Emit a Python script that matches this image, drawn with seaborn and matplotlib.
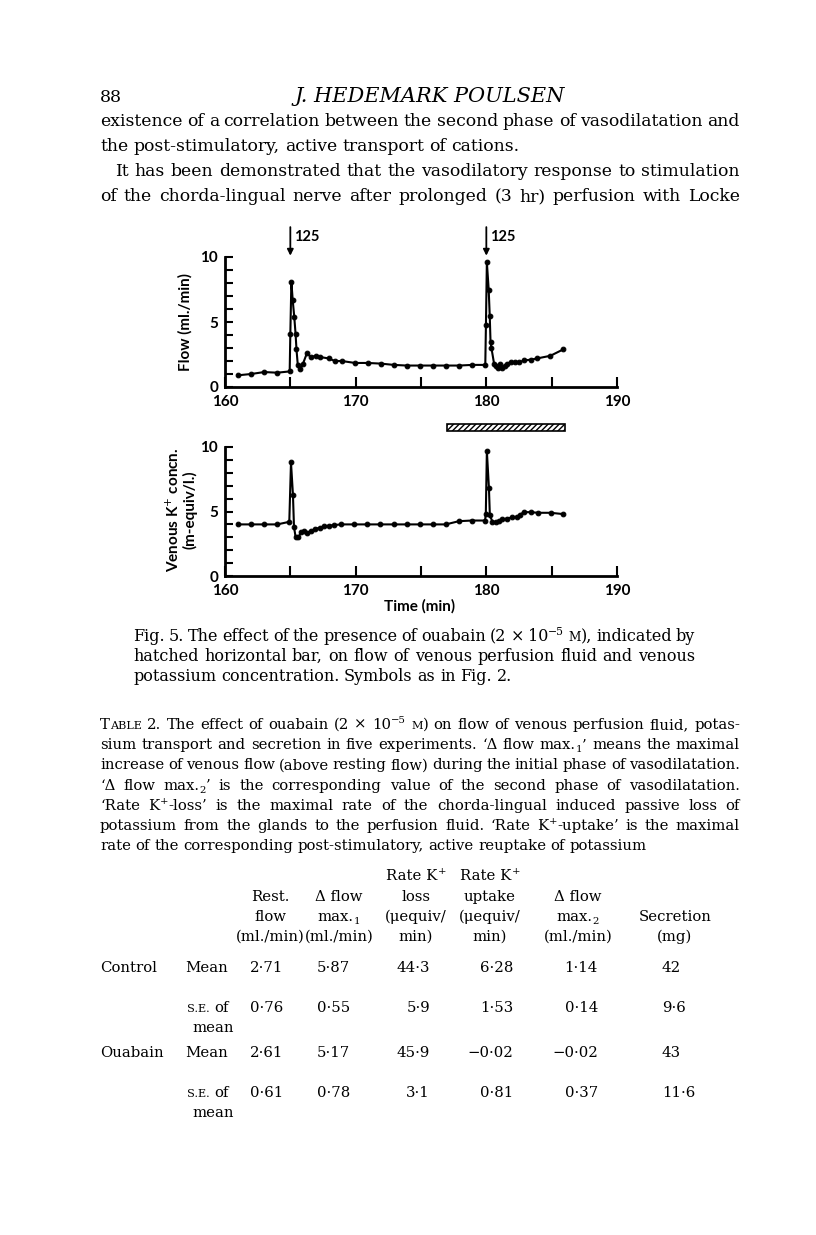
import re
import numpy as np
import pandas as pd
import matplotlib
matplotlib.use("Agg")
import matplotlib.pyplot as plt
import seaborn as sns
from matplotlib.patches import Rectangle

W, H = 816, 1235

# ---- chart data ----
flow_time = [161, 162, 163, 164, 164.95, 165.0, 165.08, 165.18, 165.3, 165.4,
             165.47, 165.57, 165.77, 165.97, 166.27, 166.58, 166.94, 167.3, 167.93, 168.4,
             168.93, 169.95, 170.93, 171.92, 172.92, 173.91, 174.91, 175.9, 176.9, 177.92,
             178.92, 179.92, 179.97, 180.04, 180.18, 180.26, 180.32, 180.39, 180.6, 180.75,
             180.9, 181.05, 181.2, 181.4, 181.6, 181.88, 182.22, 182.53, 182.9, 183.4,
             183.9, 184.9, 185.9]
flow_value = [0.9, 1.0, 1.15, 1.1, 1.2, 4.1, 8.1, 6.7, 5.4, 4.1,
              2.9, 1.7, 1.35, 1.8, 2.6, 2.3, 2.4, 2.3, 2.2, 2.0,
              2.0, 1.85, 1.85, 1.8, 1.7, 1.65, 1.65, 1.65, 1.65, 1.65,
              1.7, 1.7, 4.8, 9.6, 7.5, 5.5, 3.5, 3.0, 1.75, 1.6,
              1.45, 1.75, 1.5, 1.6, 1.8, 1.9, 1.9, 1.9, 2.05, 2.1,
              2.2, 2.4, 2.9]

k_time = [161, 162, 163, 164, 164.92, 165.05, 165.2, 165.28, 165.4, 165.6,
          165.85, 166.05, 166.25, 166.55, 166.9, 167.3, 167.6, 167.95, 168.35, 168.9,
          169.9, 170.9, 171.9, 172.9, 173.9, 174.9, 175.9, 176.9, 177.9, 178.9,
          179.9, 179.96, 180.04, 180.2, 180.27, 180.47, 180.72, 180.95, 181.23, 181.6,
          182.0, 182.37, 182.55, 182.88, 183.39, 183.95, 184.92, 185.88]
k_value = [4.0, 4.0, 4.0, 4.0, 4.2, 8.8, 6.3, 3.8, 3.05, 3.0,
           3.4, 3.5, 3.35, 3.45, 3.65, 3.75, 3.85, 3.9, 3.95, 4.0,
           4.0, 4.0, 4.0, 4.0, 4.0, 4.0, 4.0, 4.0, 4.25, 4.3,
           4.3, 4.8, 9.7, 6.8, 4.7, 4.2, 4.15, 4.25, 4.4, 4.45,
           4.55, 4.6, 4.75, 4.95, 4.95, 4.9, 4.9, 4.8]

stim_times = [165, 180]
stim_label = "125"
ouabain_start, ouabain_end = 177, 186

# ---- table data ----
col_heads = [["", "Rest.", "flow", "(ml./min)"],
             ["", "Δ flow", "max._{1}", "(ml./min)"],
             ["Rate K^{+}", "loss", "(μequiv/", "min)"],
             ["Rate K^{+}", "uptake", "(μequiv/", "min)"],
             ["", "Δ flow", "max._{2}", "(ml./min)"],
             ["", "", "Secretion", "(mg)"]]
control_mean = ["2·71", "5·87", "44·3", "6·28", "1·14", "42"]
control_se = ["0·76", "0·55", "5·9", "1·53", "0·14", "9·6"]
ouabain_mean = ["2·61", "5·17", "45·9", "−0·02", "−0·02", "43"]
ouabain_se = ["0·61", "0·78", "3·1", "0·81", "0·37", "11·6"]

body_lines = ["existence of a correlation between the second phase of vasodilatation and",
              "the post-stimulatory, active transport of cations.",
              "It has been demonstrated that the vasodilatory response to stimulation",
              "of the chorda-lingual nerve after prolonged (3 hr) perfusion with Locke"]
fig_caption = ["Fig. 5. The effect of the presence of ouabain (2 × 10^{−5} ~{M}), indicated by",
               "hatched horizontal bar, on flow of venous perfusion fluid and venous",
               "potassium concentration. Symbols as in Fig. 2."]
table_caption = ["T~{ABLE} 2. The effect of ouabain (2 × 10^{−5} ~{M}) on flow of venous perfusion fluid, potas-",
                 "sium transport and secretion in five experiments. ‘Δ flow max._{1}’ means the maximal",
                 "increase of venous flow (above resting flow) during the initial phase of vasodilatation.",
                 "‘Δ flow max._{2}’ is the corresponding value of the second phase of vasodilatation.",
                 "‘Rate K^{+}-loss’ is the maximal rate of the chorda-lingual induced passive loss of",
                 "potassium from the glands to the perfusion fluid. ‘Rate K^{+}-uptake’ is the maximal",
                 "rate of the corresponding post-stimulatory, active reuptake of potassium"]

sns.set_style("ticks")
plt.rcParams['font.family'] = ['DejaVu Serif']
plt.rcParams['hatch.linewidth'] = 1.0
for key in ['text.color', 'axes.edgecolor', 'xtick.color', 'ytick.color', 'axes.labelcolor']:
    plt.rcParams[key] = 'black'
SERIF = "DejaVu Serif"
SANS = "Lato"

fig = plt.figure(figsize=(W / 100, H / 100), dpi=100)
fig.patch.set_facecolor("white")
renderer = fig.canvas.get_renderer()


def parse(word):
    runs = []
    for part in re.split(r'(\^\{[^}]*\}|_\{[^}]*\}|~\{[^}]*\})', word):
        if not part:
            continue
        if part.startswith('^{'):
            runs.append((part[2:-1], 0.68, -0.38))
        elif part.startswith('_{'):
            runs.append((part[2:-1], 0.68, 0.22))
        elif part.startswith('~{'):
            runs.append((part[2:-1], 0.76, 0.0))
        else:
            runs.append((part, 1.0, 0.0))
    return runs


def word_width(word, size, **kw):
    w = 0
    for txt, sc, dy in parse(word):
        t = fig.text(0, 0, txt, fontsize=size * sc, family=SERIF, **kw)
        w += t.get_window_extent(renderer).width
        t.remove()
    return w


def put_word(x, y, word, size, **kw):
    px = size * 100 / 72
    for txt, sc, dy in parse(word):
        t = fig.text(x / W, 1 - (y + dy * px) / H, txt, fontsize=size * sc,
                     family=SERIF, va='baseline', ha='left', **kw)
        x += t.get_window_extent(renderer).width
    return x


def put_line(x0, x1, y, s, size, justify=True, **kw):
    words = s.split()
    widths = [word_width(w, size, **kw) for w in words]
    if justify and len(words) > 1:
        gap = (x1 - x0 - sum(widths)) / (len(words) - 1)
    else:
        gap = size * 100 / 72 * 0.3
    x = x0
    for w, wd in zip(words, widths):
        put_word(x, y, w, size, **kw)
        x += wd + gap


def fit_size(lines, target, base=10, cap=12.5):
    widest = max(sum(word_width(w, base) for w in l.split()) +
                 (len(l.split()) - 1) * base * 100 / 72 * 0.25 for l in lines)
    return min(cap, base * target / widest)


def put_center(cx, y, word, size):
    put_word(cx - word_width(word, size) / 2, y, word, size)


# ---- page header and body text ----
fig.text(100 / W, 1 - 102 / H, "88", fontsize=12.5, family=SERIF, va='baseline')
fig.text(430 / W, 1 - 102 / H, "J. HEDEMARK POULSEN", fontsize=15, family=SERIF,
         style='italic', va='baseline', ha='center')

bsize = fit_size([body_lines[0], body_lines[3]], 640)
put_line(100, 740, 126, body_lines[0], bsize)
put_line(100, 740, 151, body_lines[1], bsize, justify=False)
put_line(115, 740, 176, body_lines[2], bsize)
put_line(100, 740, 201, body_lines[3], bsize)

# ---- plots ----
def style_axis(ax):
    ax.set_xlim(160, 190)
    ax.set_ylim(0, 10)
    sns.despine(ax=ax)
    for side in ['left', 'bottom']:
        ax.spines[side].set_linewidth(2)
    ax.set_xticks([160, 170, 180, 190])
    ax.set_xticks([165, 175, 185], minor=True)
    ax.set_yticks([0, 5, 10])
    ax.set_yticks(range(11), minor=True)
    ax.tick_params(which='both', direction='in', width=1.5, length=7)
    ax.tick_params(axis='x', which='both', pad=6)
    ax.tick_params(axis='y', which='both', length=6, pad=5)
    ax.set_xlabel("")
    ax.set_ylabel("")
    for lab in ax.get_xticklabels() + ax.get_yticklabels():
        lab.set_fontfamily(SANS)
        lab.set_fontweight('bold')
        lab.set_fontsize(11)


ax_flow = fig.add_axes([225 / W, 1 - 387 / H, 392 / W, 130 / H])
ax_k = fig.add_axes([225 / W, 1 - 576 / H, 392 / W, 129 / H])

flow_df = pd.DataFrame({"time": flow_time, "flow": flow_value})
k_df = pd.DataFrame({"time": k_time, "k": k_value})

sns.lineplot(data=flow_df, x="time", y="flow", ax=ax_flow, color="black", linewidth=1.5,
             marker="o", markersize=3.4, markeredgecolor="black", estimator=None,
             sort=False, clip_on=False)
sns.lineplot(data=k_df, x="time", y="k", ax=ax_k, color="black", linewidth=1.5,
             marker="o", markersize=3.4, markeredgecolor="black", estimator=None,
             sort=False, clip_on=False)
style_axis(ax_flow)
style_axis(ax_k)

for t in stim_times:
    ax_flow.annotate("", xy=(t, 10.1), xytext=(t, 12.3), annotation_clip=False,
                     arrowprops=dict(arrowstyle="-|>", color="black", lw=1.3,
                                     mutation_scale=9, shrinkA=0, shrinkB=0))
    ax_flow.text(t + 0.25, 11.55, stim_label, fontsize=10.5, family=SANS,
                 fontweight='bold', va='center', ha='left', clip_on=False)

ax_k.add_patch(Rectangle((ouabain_start, 11.25), ouabain_end - ouabain_start, 0.5,
                         facecolor="white", edgecolor="black", hatch="//////",
                         linewidth=1.2, clip_on=False))

fig.text(185 / W, 1 - 322 / H, "Flow (ml./min)", rotation=90, fontsize=11,
         family=SANS, fontweight='bold', ha='center', va='center')
fig.text(181 / W, 1 - 510 / H, "Venous K$^{+}$ concn.\n(m-equiv/l.)", rotation=90,
         fontsize=11, family=SANS, fontweight='bold', ha='center', va='center',
         multialignment='center', linespacing=1.05)
fig.text(420 / W, 1 - 606 / H, "Time (min)", fontsize=11, family=SANS,
         fontweight='bold', ha='center', va='center')

# ---- figure caption ----
csize = fit_size(fig_caption[:2], 562)
put_line(133, 695, 641, fig_caption[0], csize)
put_line(133, 695, 661, fig_caption[1], csize)
put_line(133, 695, 681, fig_caption[2], csize, justify=False)

# ---- table caption ----
tsize = fit_size(table_caption[:6], 640)
for i, l in enumerate(table_caption):
    put_line(100, 740, 729 + i * 20.2, l, tsize, justify=(i < 6))

# ---- table ----
col_centers = [270, 339, 416, 490, 578, 675]
head_rows = [880, 901, 921, 941]
for cx, heads in zip(col_centers, col_heads):
    for y, h in zip(head_rows, heads):
        if h:
            put_center(cx, y, h, tsize)

val_right = [283, 350, 430, 513, 598, None]
val_left6 = 662


def put_values(y, vals):
    for i, v in enumerate(vals):
        if val_right[i] is None:
            put_word(val_left6, y, v, tsize)
        else:
            put_word(val_right[i] - word_width(v, tsize), y, v, tsize)


put_word(100, 972, "Control", tsize)
put_word(185, 972, "Mean", tsize)
put_values(972, control_mean)
put_line(187, 240, 1012, "~{S.E.} of", tsize, justify=False)
put_word(192, 1032, "mean", tsize)
put_values(1012, control_se)

put_word(100, 1057, "Ouabain", tsize)
put_word(185, 1057, "Mean", tsize)
put_values(1057, ouabain_mean)
put_line(187, 240, 1097, "~{S.E.} of", tsize, justify=False)
put_word(192, 1117, "mean", tsize)
put_values(1097, ouabain_se)

fig.savefig("out.png", dpi=100, facecolor="white")
